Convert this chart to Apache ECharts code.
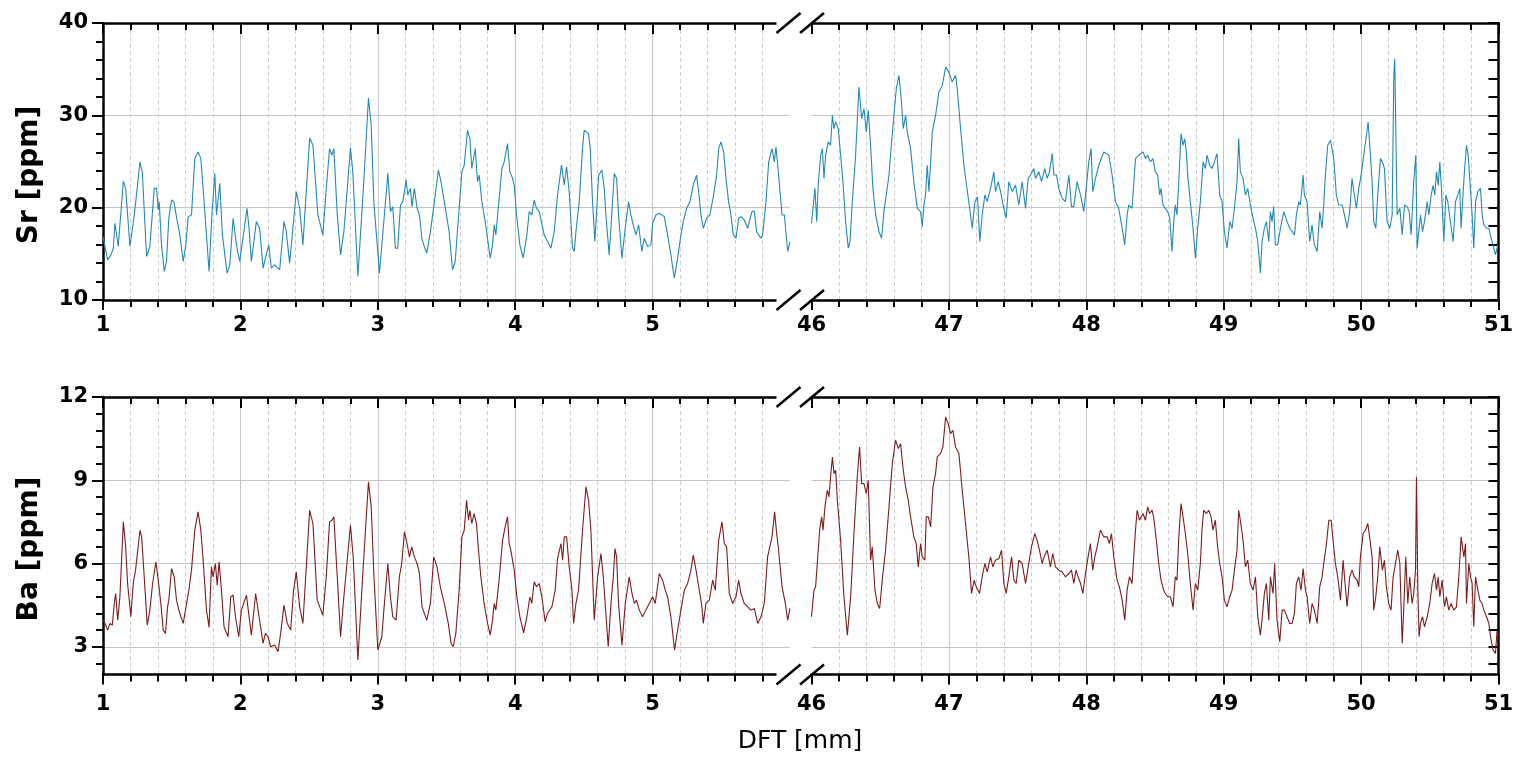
<!DOCTYPE html>
<html>
<head>
<meta charset="utf-8">
<script src="https://cdn.jsdelivr.net/npm/echarts@6/dist/echarts.min.js"></script>
<style>html,body{margin:0;padding:0;background:#fff}#c{width:1520px;height:770px}</style>
</head>
<body>
<div id="c"></div>
<script>
// ---------------- data ----------------
const xLeftRange = [1, 6];
const xRightRange = [46, 51];
const xTicksLeft = [1, 2, 3, 4, 5];
const xTicksRight = [46, 47, 48, 49, 50, 51];
const srYMajor = [10, 20, 30, 40];
const srYMinor = [12, 14, 16, 18, 22, 24, 26, 28, 32, 34, 36, 38];
const baYMajor = [3, 6, 9, 12];
const baYMinor = [2.4, 3.6, 4.2, 4.8, 5.4, 6.6, 7.2, 7.8, 8.4, 9.6, 10.2, 10.8, 11.4];

const srSeg1 = [[1.0,16.87],[1.034,14.35],[1.058,14.89],[1.075,15.61],[1.087,18.31],[1.111,15.79],[1.148,22.88],[1.165,22.09],[1.196,15.79],[1.228,19.21],[1.269,24.96],[1.286,23.88],[1.317,14.71],[1.341,15.79],[1.373,22.09],[1.39,22.09],[1.402,19.75],[1.409,20.65],[1.426,15.97],[1.446,13.09],[1.462,14.17],[1.479,18.85],[1.499,20.83],[1.516,20.65],[1.528,19.57],[1.542,19.39],[1.559,17.05],[1.584,14.17],[1.603,15.97],[1.62,19.03],[1.644,19.21],[1.668,25.32],[1.692,26.04],[1.712,25.32],[1.741,19.57],[1.772,13.09],[1.794,19.57],[1.814,23.71],[1.826,19.21],[1.85,22.63],[1.869,17.05],[1.903,12.91],[1.923,13.81],[1.947,18.85],[1.971,15.97],[1.995,14.17],[2.048,19.93],[2.063,17.77],[2.08,14.17],[2.116,18.49],[2.14,17.77],[2.165,13.45],[2.182,14.53],[2.206,15.97],[2.225,13.45],[2.249,13.81],[2.286,13.27],[2.317,18.49],[2.334,17.41],[2.358,13.99],[2.407,21.73],[2.431,19.93],[2.455,15.97],[2.504,27.55],[2.528,26.76],[2.564,19.21],[2.6,17.05],[2.625,22.09],[2.649,26.4],[2.666,25.68],[2.68,26.4],[2.705,19.21],[2.729,14.89],[2.753,17.41],[2.801,26.47],[2.818,23.88],[2.855,12.55],[2.898,22.81],[2.932,31.87],[2.952,28.92],[2.971,20.65],[3.012,12.91],[3.048,19.21],[3.073,23.71],[3.092,19.57],[3.109,20.11],[3.128,15.61],[3.145,15.61],[3.165,20.29],[3.182,20.65],[3.206,22.99],[3.218,21.37],[3.237,22.09],[3.249,20.11],[3.266,22.09],[3.286,19.93],[3.303,19.21],[3.322,16.51],[3.356,15.07],[3.383,17.41],[3.407,20.11],[3.441,24.06],[3.46,22.81],[3.484,20.65],[3.519,17.41],[3.544,13.27],[3.563,14.17],[3.592,19.93],[3.612,23.88],[3.629,24.6],[3.653,28.38],[3.67,27.48],[3.684,24.24],[3.709,26.4],[3.726,22.81],[3.738,23.53],[3.757,20.65],[3.782,18.49],[3.818,14.53],[3.835,15.97],[3.847,18.13],[3.859,17.05],[3.879,20.29],[3.903,24.24],[3.92,24.96],[3.944,26.94],[3.961,23.88],[3.981,23.17],[3.993,22.45],[4.01,19.21],[4.034,15.97],[4.058,14.53],[4.085,17.05],[4.102,19.57],[4.121,19.21],[4.138,20.83],[4.155,19.93],[4.175,19.57],[4.211,17.05],[4.26,15.61],[4.284,17.41],[4.308,21.37],[4.337,24.6],[4.357,22.45],[4.374,24.42],[4.393,21.73],[4.417,15.61],[4.43,15.25],[4.442,17.41],[4.466,20.65],[4.49,26.4],[4.502,28.38],[4.534,28.02],[4.546,26.4],[4.563,20.65],[4.58,16.33],[4.607,23.53],[4.631,24.06],[4.648,22.09],[4.66,19.21],[4.684,14.89],[4.701,18.85],[4.721,23.71],[4.738,23.17],[4.752,19.21],[4.777,14.53],[4.801,17.77],[4.825,20.65],[4.842,19.21],[4.859,18.13],[4.879,17.05],[4.898,18.13],[4.922,15.25],[4.939,16.69],[4.964,15.79],[4.988,15.97],[5.0,18.31],[5.024,19.21],[5.049,19.39],[5.085,19.03],[5.109,17.05],[5.133,14.89],[5.158,12.37],[5.182,14.53],[5.206,17.05],[5.223,18.49],[5.248,19.93],[5.272,20.65],[5.296,22.45],[5.32,23.53],[5.335,21.73],[5.352,19.21],[5.369,17.77],[5.393,18.85],[5.417,19.21],[5.442,21.19],[5.466,23.53],[5.481,26.4],[5.498,27.12],[5.517,26.04],[5.534,23.17],[5.553,20.65],[5.57,19.21],[5.587,17.05],[5.607,16.69],[5.626,18.85],[5.643,19.03],[5.667,18.67],[5.692,17.77],[5.723,19.57],[5.74,19.64],[5.757,17.41],[5.789,16.69],[5.801,17.05],[5.825,20.65],[5.845,24.96],[5.869,26.4],[5.886,24.96],[5.898,26.58],[5.917,23.53],[5.942,19.21],[5.959,19.21],[5.983,15.25],[6.0,16.33]];

const srSeg2 = [[46.0,18.31],[46.011,18.49],[46.025,22.09],[46.038,18.49],[46.05,22.81],[46.067,25.68],[46.079,26.4],[46.091,23.17],[46.103,25.68],[46.122,27.12],[46.139,26.76],[46.152,30.0],[46.164,28.56],[46.176,29.28],[46.195,28.56],[46.212,25.68],[46.229,22.81],[46.248,18.49],[46.268,15.61],[46.28,16.33],[46.297,20.65],[46.321,25.68],[46.345,33.06],[46.365,29.64],[46.382,30.72],[46.399,28.2],[46.413,30.54],[46.43,26.76],[46.447,22.09],[46.467,19.21],[46.491,17.41],[46.51,16.69],[46.527,19.57],[46.544,21.37],[46.564,23.53],[46.583,27.12],[46.6,30.0],[46.617,32.88],[46.636,34.32],[46.653,31.8],[46.668,28.56],[46.685,30.0],[46.697,28.2],[46.721,26.4],[46.745,22.81],[46.77,19.93],[46.794,19.57],[46.806,17.95],[46.818,20.29],[46.83,21.37],[46.842,24.6],[46.855,21.73],[46.879,28.2],[46.903,30.0],[46.927,32.52],[46.952,33.24],[46.976,35.22],[47.0,34.68],[47.024,33.6],[47.048,34.32],[47.061,32.88],[47.085,28.56],[47.109,24.6],[47.138,21.37],[47.17,17.77],[47.189,20.65],[47.208,21.19],[47.225,16.33],[47.242,19.21],[47.262,21.37],[47.279,20.65],[47.303,22.09],[47.327,23.88],[47.339,21.73],[47.359,22.81],[47.376,21.73],[47.4,19.93],[47.417,18.85],[47.436,22.81],[47.461,21.73],[47.485,22.45],[47.509,20.29],[47.533,22.81],[47.558,19.93],[47.577,23.17],[47.594,23.53],[47.618,24.24],[47.63,23.17],[47.655,23.88],[47.674,22.81],[47.698,24.24],[47.715,23.17],[47.732,23.88],[47.752,25.86],[47.764,23.53],[47.783,23.53],[47.8,22.09],[47.824,21.01],[47.848,20.65],[47.873,23.53],[47.892,20.11],[47.909,20.11],[47.933,22.81],[47.958,21.37],[47.982,19.57],[47.999,22.09],[48.018,24.96],[48.035,26.4],[48.047,21.73],[48.067,23.17],[48.091,24.6],[48.127,26.04],[48.164,25.68],[48.188,23.53],[48.212,20.65],[48.236,19.93],[48.261,17.77],[48.28,15.97],[48.297,19.21],[48.309,20.29],[48.333,19.93],[48.358,25.32],[48.382,25.68],[48.413,26.04],[48.43,25.32],[48.447,25.68],[48.466,24.96],[48.485,25.32],[48.502,23.88],[48.519,23.53],[48.534,21.37],[48.544,22.09],[48.558,20.29],[48.575,19.93],[48.592,19.57],[48.607,18.85],[48.624,15.25],[48.636,18.49],[48.648,20.29],[48.66,19.21],[48.672,22.45],[48.689,28.02],[48.704,26.76],[48.716,27.48],[48.728,26.04],[48.738,23.53],[48.757,20.65],[48.777,17.77],[48.794,14.53],[48.811,17.77],[48.83,20.65],[48.85,24.96],[48.867,24.24],[48.879,25.68],[48.898,24.6],[48.915,24.24],[48.932,24.96],[48.951,25.86],[48.971,21.37],[48.988,20.65],[49.005,17.41],[49.024,15.61],[49.044,18.49],[49.061,17.77],[49.078,19.93],[49.097,22.81],[49.109,27.48],[49.121,23.88],[49.141,23.17],[49.158,21.37],[49.175,22.09],[49.194,20.29],[49.214,18.85],[49.231,17.77],[49.248,16.33],[49.267,12.91],[49.279,16.33],[49.296,17.77],[49.311,18.49],[49.328,16.33],[49.34,19.57],[49.352,18.49],[49.364,20.11],[49.376,15.97],[49.393,15.97],[49.413,17.77],[49.437,19.57],[49.461,18.49],[49.481,17.77],[49.498,17.41],[49.515,17.05],[49.529,19.21],[49.546,20.65],[49.558,20.29],[49.578,23.53],[49.587,21.37],[49.607,20.65],[49.626,16.33],[49.643,18.13],[49.66,15.97],[49.68,15.25],[49.699,19.57],[49.716,17.77],[49.728,20.29],[49.74,23.53],[49.757,26.76],[49.777,27.3],[49.789,27.48],[49.801,25.32],[49.82,21.37],[49.837,20.29],[49.862,20.29],[49.879,19.21],[49.898,17.77],[49.917,19.57],[49.934,23.17],[49.951,21.37],[49.966,19.93],[49.983,22.09],[50.0,23.53],[50.019,25.68],[50.039,27.84],[50.051,29.28],[50.068,25.68],[50.08,22.81],[50.092,18.49],[50.107,17.77],[50.121,21.37],[50.141,25.32],[50.155,24.96],[50.17,24.24],[50.189,18.49],[50.209,17.77],[50.226,19.21],[50.238,34.32],[50.245,36.12],[50.252,28.92],[50.262,19.21],[50.282,19.93],[50.299,17.05],[50.316,20.29],[50.335,20.11],[50.35,19.57],[50.364,17.05],[50.383,22.81],[50.398,25.68],[50.408,15.61],[50.42,17.41],[50.432,19.21],[50.447,17.41],[50.461,18.49],[50.481,20.65],[50.493,19.21],[50.51,21.37],[50.524,22.41],[50.536,21.37],[50.549,23.88],[50.561,22.41],[50.573,24.96],[50.585,22.09],[50.602,16.33],[50.617,21.37],[50.631,20.65],[50.65,18.49],[50.67,16.33],[50.687,20.65],[50.704,21.37],[50.718,22.09],[50.728,17.77],[50.743,21.73],[50.752,23.88],[50.767,26.76],[50.779,25.68],[50.791,23.17],[50.808,19.21],[50.82,15.61],[50.833,20.65],[50.85,21.73],[50.869,22.09],[50.881,19.21],[50.893,18.13],[50.913,17.77],[50.93,17.77],[50.947,16.69],[50.966,15.61],[50.978,14.89],[50.995,15.97]];

const baSeg1 = [[1.0,3.96],[1.015,3.84],[1.034,3.6],[1.051,3.84],[1.068,3.78],[1.082,4.56],[1.092,4.92],[1.107,3.96],[1.123,4.8],[1.148,7.5],[1.165,6.6],[1.179,5.28],[1.203,4.08],[1.22,5.28],[1.237,5.76],[1.269,7.2],[1.281,6.96],[1.3,5.52],[1.322,3.78],[1.341,4.32],[1.361,5.28],[1.385,6.06],[1.402,5.4],[1.421,4.56],[1.438,3.6],[1.455,3.48],[1.47,4.44],[1.479,4.68],[1.499,5.82],[1.518,5.52],[1.535,4.68],[1.552,4.32],[1.567,4.08],[1.584,3.84],[1.6,4.32],[1.625,5.04],[1.644,5.76],[1.668,7.2],[1.692,7.86],[1.712,7.2],[1.729,6.12],[1.753,4.32],[1.772,3.7],[1.789,5.88],[1.801,5.52],[1.818,6.0],[1.831,5.22],[1.845,6.06],[1.862,5.04],[1.881,3.72],[1.91,3.36],[1.93,4.8],[1.947,4.86],[1.964,4.08],[1.988,3.36],[2.007,4.32],[2.044,4.86],[2.063,4.08],[2.08,3.42],[2.111,4.92],[2.136,4.08],[2.165,3.12],[2.182,3.48],[2.201,3.36],[2.22,3.0],[2.249,3.06],[2.274,2.82],[2.293,3.48],[2.317,4.5],[2.341,3.84],[2.366,3.6],[2.387,5.04],[2.407,5.7],[2.431,4.44],[2.455,3.84],[2.504,7.92],[2.528,7.44],[2.559,4.68],[2.6,4.14],[2.625,5.52],[2.649,7.5],[2.666,7.56],[2.68,7.68],[2.705,5.52],[2.729,3.36],[2.753,4.8],[2.801,7.38],[2.821,6.24],[2.855,2.52],[2.891,5.64],[2.932,8.94],[2.952,8.04],[2.971,5.64],[3.0,2.88],[3.029,3.36],[3.048,4.56],[3.073,6.0],[3.092,4.8],[3.109,4.08],[3.133,3.96],[3.157,5.52],[3.174,6.0],[3.194,7.14],[3.213,6.72],[3.23,6.24],[3.247,6.6],[3.266,6.24],[3.286,6.0],[3.303,5.64],[3.322,4.44],[3.356,3.96],[3.383,4.56],[3.407,6.24],[3.431,5.88],[3.455,5.16],[3.484,4.56],[3.513,3.84],[3.533,3.12],[3.549,3.0],[3.568,3.48],[3.592,5.04],[3.612,6.96],[3.629,7.2],[3.646,8.28],[3.66,7.56],[3.67,7.92],[3.684,7.44],[3.701,7.8],[3.718,7.44],[3.733,6.48],[3.75,5.52],[3.774,4.56],[3.799,3.84],[3.818,3.42],[3.835,3.96],[3.847,4.56],[3.859,4.32],[3.883,5.4],[3.908,6.84],[3.927,7.32],[3.944,7.68],[3.956,6.72],[3.968,6.48],[3.993,5.76],[4.012,4.8],[4.034,4.08],[4.061,3.5],[4.085,4.08],[4.107,4.8],[4.121,4.56],[4.138,5.34],[4.155,5.16],[4.175,5.28],[4.194,4.8],[4.218,3.9],[4.235,4.2],[4.267,4.44],[4.291,5.04],[4.308,6.18],[4.333,6.72],[4.345,6.12],[4.357,6.96],[4.374,6.96],[4.393,5.88],[4.413,5.04],[4.425,3.84],[4.442,4.56],[4.461,5.04],[4.49,7.2],[4.515,8.76],[4.534,8.28],[4.551,7.2],[4.575,3.96],[4.6,5.52],[4.624,6.36],[4.641,5.52],[4.655,4.56],[4.677,3.0],[4.697,4.56],[4.714,5.52],[4.726,6.54],[4.738,6.24],[4.752,4.56],[4.777,3.06],[4.801,4.56],[4.83,5.52],[4.85,4.92],[4.867,4.56],[4.883,4.68],[4.903,4.32],[4.927,4.08],[4.951,4.32],[4.976,4.56],[5.0,4.8],[5.019,4.56],[5.049,5.64],[5.073,5.4],[5.092,5.04],[5.109,4.8],[5.133,4.08],[5.16,2.88],[5.182,3.6],[5.206,4.32],[5.231,5.04],[5.255,5.28],[5.279,5.76],[5.296,6.3],[5.316,5.76],[5.34,5.04],[5.359,4.44],[5.369,3.84],[5.388,4.56],[5.413,4.68],[5.437,5.4],[5.456,5.04],[5.481,6.84],[5.505,7.5],[5.522,6.72],[5.539,6.6],[5.558,4.92],[5.583,4.56],[5.607,4.8],[5.626,5.4],[5.643,4.92],[5.667,4.56],[5.692,4.44],[5.716,4.32],[5.74,4.38],[5.765,3.84],[5.789,4.08],[5.813,4.56],[5.837,6.24],[5.869,6.96],[5.888,7.86],[5.903,7.08],[5.917,6.48],[5.942,5.16],[5.966,4.56],[5.983,3.96],[6.0,4.38]];

const baSeg2 = [[46.0,4.08],[46.018,5.04],[46.03,5.16],[46.042,6.0],[46.059,7.2],[46.074,7.68],[46.084,7.2],[46.098,8.04],[46.115,8.64],[46.127,8.4],[46.139,9.12],[46.152,9.84],[46.164,9.24],[46.176,9.36],[46.188,8.28],[46.212,6.84],[46.236,4.8],[46.261,3.42],[46.285,4.8],[46.309,7.08],[46.333,9.12],[46.35,10.2],[46.365,8.88],[46.382,8.88],[46.399,8.52],[46.413,9.0],[46.43,6.12],[46.442,6.6],[46.462,5.04],[46.479,4.56],[46.496,4.38],[46.515,5.4],[46.539,6.48],[46.564,8.04],[46.588,9.6],[46.612,10.44],[46.632,10.14],[46.648,10.32],[46.668,9.36],[46.685,8.76],[46.704,8.28],[46.721,7.68],[46.745,6.96],[46.762,6.72],[46.777,5.88],[46.794,6.72],[46.806,6.24],[46.825,6.12],[46.835,7.68],[46.85,7.68],[46.867,7.32],[46.884,8.76],[46.903,9.24],[46.915,9.84],[46.939,9.96],[46.956,10.2],[46.976,11.28],[46.995,11.04],[47.012,10.68],[47.029,10.8],[47.048,10.2],[47.073,9.96],[47.097,8.64],[47.121,7.44],[47.145,6.24],[47.165,4.92],[47.184,5.4],[47.199,5.16],[47.223,4.92],[47.242,5.52],[47.262,6.0],[47.279,5.7],[47.303,6.24],[47.32,5.88],[47.339,6.12],[47.364,6.18],[47.383,6.48],[47.4,5.28],[47.417,4.92],[47.436,5.52],[47.456,6.24],[47.473,5.4],[47.49,5.28],[47.509,6.12],[47.533,6.0],[47.558,5.28],[47.577,5.88],[47.601,6.6],[47.625,7.08],[47.642,6.84],[47.659,6.48],[47.679,6.0],[47.693,6.24],[47.715,6.48],[47.739,5.88],[47.756,6.36],[47.776,5.88],[47.8,5.76],[47.824,5.7],[47.848,5.52],[47.873,5.64],[47.892,5.76],[47.909,5.28],[47.925,5.76],[47.941,5.52],[47.958,5.28],[47.975,4.92],[47.994,5.64],[48.013,6.24],[48.03,6.72],[48.047,5.76],[48.062,6.24],[48.079,6.6],[48.103,7.2],[48.127,6.96],[48.152,6.96],[48.168,6.72],[48.183,7.08],[48.2,6.24],[48.224,5.4],[48.241,5.16],[48.261,4.68],[48.28,3.96],[48.297,5.04],[48.314,5.52],[48.333,5.28],[48.358,7.2],[48.37,7.92],[48.387,7.56],[48.413,7.8],[48.43,7.56],[48.447,8.04],[48.461,7.8],[48.478,7.92],[48.49,7.68],[48.51,6.84],[48.527,6.0],[48.544,5.4],[48.563,5.04],[48.575,4.92],[48.592,4.8],[48.612,4.8],[48.631,4.44],[48.648,5.52],[48.66,5.4],[48.672,6.84],[48.689,8.16],[48.704,7.68],[48.721,7.08],[48.738,6.36],[48.757,5.28],[48.777,4.32],[48.794,5.28],[48.811,5.04],[48.83,6.0],[48.842,7.2],[48.854,7.92],[48.874,7.8],[48.891,7.92],[48.908,7.68],[48.922,7.2],[48.939,7.56],[48.956,6.6],[48.971,6.0],[48.988,5.52],[49.005,4.68],[49.024,4.44],[49.044,4.8],[49.061,5.04],[49.078,5.76],[49.097,6.48],[49.109,7.92],[49.121,7.56],[49.141,6.84],[49.158,5.88],[49.175,6.12],[49.194,5.28],[49.214,5.04],[49.231,5.52],[49.248,4.08],[49.267,3.42],[49.279,3.96],[49.296,4.92],[49.311,5.28],[49.328,3.96],[49.34,5.52],[49.359,4.92],[49.371,6.0],[49.388,3.96],[49.408,3.18],[49.425,4.32],[49.442,4.32],[49.461,4.08],[49.481,3.84],[49.498,3.84],[49.515,4.2],[49.529,5.28],[49.546,5.52],[49.563,5.04],[49.578,5.82],[49.595,5.04],[49.607,4.8],[49.626,3.84],[49.643,4.56],[49.66,4.32],[49.68,3.84],[49.699,5.16],[49.716,5.52],[49.728,6.0],[49.748,6.72],[49.765,7.56],[49.782,7.56],[49.796,6.84],[49.813,6.0],[49.83,5.52],[49.85,4.68],[49.869,6.12],[49.879,5.52],[49.898,4.44],[49.917,5.52],[49.934,5.76],[49.951,5.52],[49.971,5.4],[49.983,5.16],[49.995,6.24],[50.015,7.08],[50.032,7.2],[50.049,7.44],[50.068,6.72],[50.08,6.24],[50.092,4.32],[50.107,4.8],[50.121,5.52],[50.136,6.6],[50.155,5.76],[50.17,6.12],[50.184,5.16],[50.201,4.56],[50.218,4.32],[50.233,5.52],[50.25,6.0],[50.267,6.48],[50.282,6.0],[50.299,3.12],[50.311,4.44],[50.325,6.24],[50.34,4.56],[50.354,5.52],[50.371,4.56],[50.383,4.92],[50.396,5.76],[50.403,9.12],[50.413,5.04],[50.422,3.36],[50.432,3.84],[50.447,4.08],[50.461,3.72],[50.481,4.08],[50.5,4.56],[50.517,5.28],[50.534,5.64],[50.549,5.04],[50.561,5.52],[50.573,4.8],[50.59,5.4],[50.607,4.44],[50.621,4.8],[50.638,4.32],[50.655,4.56],[50.675,4.32],[50.694,4.44],[50.711,5.52],[50.728,6.96],[50.738,6.6],[50.748,6.24],[50.76,6.72],[50.767,4.56],[50.784,6.0],[50.796,5.52],[50.808,5.28],[50.82,3.72],[50.833,5.52],[50.85,5.04],[50.864,4.68],[50.881,4.56],[50.893,4.32],[50.913,4.08],[50.93,3.84],[50.942,3.36],[50.961,2.88],[50.978,2.76],[50.99,3.6],[51.0,3.42]];

// ---------------- layout & style ----------------
const FONT = 'DejaVu Sans';
const AX = '#000';
const GRID_MAJOR = '#c4c4c4';
const GRID_MINOR = '#cdcdcd';

const panels = [
  { top: 23, height: 277, yMin: 10, yMax: 40, yMajor: srYMajor, yMinor: srYMinor,
    color: '#2489b4', segs: [srSeg1, srSeg2], xLabelMargin: 15, name: 'Sr [ppm]', nameY: 175 },
  { top: 397, height: 277.5, yMin: 2, yMax: 12, yMajor: baYMajor, yMinor: baYMinor,
    color: '#7c1c1c', segs: [baSeg1, baSeg2], xLabelMargin: 20, name: 'Ba [ppm]', nameY: 549 }
];
const columns = [
  { left: 103, width: 687, range: xLeftRange, ticks: xTicksLeft, side: 'left' },
  { left: 811.5, width: 687, range: xRightRange, ticks: xTicksRight, side: 'right' }
];

const grid = [], xAxis = [], yAxis = [], series = [];
const labelStyle = { color: '#000', fontFamily: FONT, fontWeight: 'bold', fontSize: 21 };
const lineAx = { show: true, onZero: false, lineStyle: { color: AX, width: 2.5 } };

panels.forEach(p => {
  columns.forEach((c, ci) => {
    const gi = grid.length;
    grid.push({ left: c.left, top: p.top, width: c.width, height: p.height, containLabel: false });

    const xi = xAxis.length;
    xAxis.push({
      type: 'value', gridIndex: gi, position: 'bottom', min: c.range[0], max: c.range[1], interval: 1,
      axisLine: lineAx,
      axisTick: { show: true, inside: false, length: 10, customValues: c.ticks, lineStyle: { color: AX, width: 2 } },
      minorTick: { show: true, splitNumber: 5, length: 7, lineStyle: { color: AX, width: 2 } },
      axisLabel: Object.assign({ show: true, customValues: c.ticks, margin: p.xLabelMargin,
        showMinLabel: true, showMaxLabel: true, hideOverlap: false }, labelStyle),
      splitLine: { show: true, showMinLine: false, lineStyle: { color: GRID_MAJOR, width: 1 } },
      minorSplitLine: { show: true, lineStyle: { color: GRID_MINOR, width: 1, type: [4, 3] } }
    });
    xAxis.push({
      type: 'value', gridIndex: gi, position: 'top', min: c.range[0], max: c.range[1], interval: 1,
      axisLine: lineAx,
      axisTick: { show: true, inside: true, length: 11, customValues: c.ticks, lineStyle: { color: AX, width: 2 } },
      minorTick: { show: true, splitNumber: 5, length: 7, lineStyle: { color: AX, width: 2 } },
      axisLabel: { show: false }, splitLine: { show: false }
    });

    const yi = yAxis.length;
    if (c.side === 'left') {
      yAxis.push({
        type: 'value', gridIndex: gi, position: 'left', min: p.yMin, max: p.yMax,
        axisLine: lineAx,
        axisTick: { show: true, inside: false, length: 11, customValues: p.yMajor, lineStyle: { color: AX, width: 2 } },
        axisLabel: Object.assign({ show: true, customValues: p.yMajor, margin: 15,
          showMinLabel: true, showMaxLabel: true }, labelStyle),
        splitLine: { show: true, lineStyle: { color: GRID_MAJOR, width: 1 } },
        minorTick: { show: false }
      });
      yAxis.push({
        type: 'value', gridIndex: gi, position: 'left', min: p.yMin, max: p.yMax,
        axisLine: { show: false },
        axisTick: { show: true, inside: false, length: 7, customValues: p.yMinor, lineStyle: { color: AX, width: 2 } },
        axisLabel: { show: false }, splitLine: { show: false }
      });
    } else {
      yAxis.push({
        type: 'value', gridIndex: gi, position: 'left', min: p.yMin, max: p.yMax,
        axisLine: { show: false },
        axisTick: { show: false, customValues: p.yMajor },
        axisLabel: { show: false },
        splitLine: { show: true, lineStyle: { color: GRID_MAJOR, width: 1 } }
      });
      const allTicks = p.yMajor.concat(p.yMinor).sort((a, b) => a - b);
      yAxis.push({
        type: 'value', gridIndex: gi, position: 'right', min: p.yMin, max: p.yMax,
        axisLine: lineAx,
        axisTick: { show: true, inside: true, length: 10, customValues: allTicks, lineStyle: { color: AX, width: 2 } },
        axisLabel: { show: false }, splitLine: { show: false }
      });
    }

    series.push({
      type: 'line', xAxisIndex: xi, yAxisIndex: yi, data: p.segs[ci],
      showSymbol: false, symbol: 'none', silent: true, animation: false,
      lineStyle: { color: p.color, width: 1.1 }, z: 3
    });
  });
});

// break marks on the x axes and axis titles
const graphic = [];
const axisYs = [23, 300, 397, 674.5];
axisYs.forEach(y => {
  graphic.push({ type: 'rect', z: 100, shape: { x: 776.5, y: y - 3, width: 16, height: 6 }, style: { fill: '#fff' } });
  [788.5, 812].forEach(cx => {
    graphic.push({ type: 'line', z: 101, shape: { x1: cx - 12, y1: y + 10, x2: cx + 12, y2: y - 10 },
      style: { stroke: '#000', lineWidth: 2.5 } });
  });
});
panels.forEach(p => {
  graphic.push({ type: 'text', z: 50, x: 30, y: p.nameY, rotation: Math.PI / 2,
    style: { text: p.name, fontFamily: FONT, fontWeight: 'bold', fontSize: 28, fill: '#000',
      align: 'center', verticalAlign: 'middle' } });
});
graphic.push({ type: 'text', z: 50, x: 800, y: 741,
  style: { text: 'DFT [mm]', fontFamily: FONT, fontSize: 25, fill: '#000', align: 'center', verticalAlign: 'middle' } });

const chart = echarts.init(document.getElementById('c'), null, { renderer: 'canvas' });
chart.setOption({
  backgroundColor: '#fff',
  animation: false,
  grid, xAxis, yAxis, series, graphic
});
</script>
</body>
</html>
